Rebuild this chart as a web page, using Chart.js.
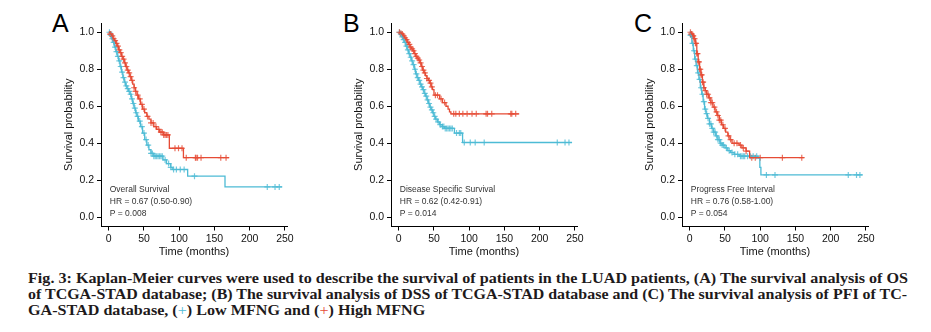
<!DOCTYPE html>
<html>
<head>
<meta charset="utf-8">
<script src="https://cdn.jsdelivr.net/npm/chart.js@4.4.1/dist/chart.umd.min.js"></script>
<style>
  body { margin: 0; background: #fff; width: 931px; height: 332px; overflow: hidden; position: relative; }
  canvas { position: absolute; top: 0; }
  .tag { position: absolute; top: 9px; font: 25px "Liberation Sans", Arial, sans-serif; color: #000; }
  .cap { position: absolute; left: 28px; white-space: nowrap; font: bold 15.5px "Liberation Serif", "Times New Roman", serif;
         line-height: 16px; color: #1e1a1b; transform-origin: 0 0; }
</style>
</head>
<body>
<div class="tag" style="left:52px">A</div>
<div class="tag" style="left:343px">B</div>
<div class="tag" style="left:634px">C</div>
<canvas id="chartA" width="256" height="260" style="left:41px"></canvas>
<canvas id="chartB" width="256" height="260" style="left:331px"></canvas>
<canvas id="chartC" width="256" height="260" style="left:622px"></canvas>
<div class="cap" id="cap1" style="top:270px">Fig. 3: Kaplan-Meier curves were used to describe the survival of patients in the LUAD patients, (A) The survival analysis of OS</div>
<div class="cap" id="cap2" style="top:286px">of TCGA-STAD database; (B) The survival analysis of DSS of TCGA-STAD database and (C) The survival analysis of PFI of TC-</div>
<div class="cap" id="cap3" style="top:302px">GA-STAD database, (<span style="color:#4DBBD5;font-weight:normal">+</span>) Low MFNG and (<span style="color:#E64B35;font-weight:normal">+</span>) High MFNG</div>
<script>
// tick values shared by the three panels
const xTicks = [0, 50, 100, 150, 200, 250];
const yTicks = [0, 0.2, 0.4, 0.6, 0.8, 1.0];

// A - overall survival
const osHighTime = [0, 2, 4, 6, 8, 10, 12, 14, 16, 18, 20, 22, 24, 26, 28, 30, 32, 34, 36, 38, 40, 42, 45, 48, 51, 54, 57, 60, 64, 68, 72, 78, 86, 106, 171];
const osHighSurv = [1.0, 0.99, 0.98, 0.965, 0.955, 0.94, 0.925, 0.905, 0.89, 0.87, 0.855, 0.835, 0.815, 0.795, 0.78, 0.76, 0.74, 0.72, 0.70, 0.68, 0.66, 0.64, 0.61, 0.585, 0.565, 0.545, 0.53, 0.51, 0.49, 0.475, 0.46, 0.445, 0.373, 0.322, 0.322];
const osHighCensor = [2, 3, 5, 7, 9, 11, 13, 15, 17, 19, 21, 23, 25, 27, 29, 31, 33, 36, 38, 41, 44, 47, 50, 55, 60, 63, 67, 71, 74, 76, 78, 80, 82, 84, 94, 99, 104, 110, 123, 124, 126, 131, 159, 166.5];
const osLowTime = [0, 2, 4, 6, 8, 10, 12, 14, 16, 18, 20, 22, 24, 26, 28, 30, 32, 34, 36, 38, 40, 42, 45, 48, 51, 54, 57, 60, 64, 77, 82, 88, 90, 112, 165, 246];
const osLowSurv = [1.0, 0.985, 0.965, 0.945, 0.92, 0.895, 0.87, 0.845, 0.815, 0.785, 0.755, 0.73, 0.71, 0.695, 0.68, 0.665, 0.64, 0.615, 0.59, 0.565, 0.545, 0.52, 0.49, 0.455, 0.42, 0.39, 0.365, 0.345, 0.33, 0.31, 0.29, 0.27, 0.258, 0.222, 0.164, 0.164];
const osLowCensor = [1, 3, 5, 7, 9, 11, 13, 15, 17, 19, 21, 23, 25, 27, 29, 31, 33, 35, 37, 39, 41, 44, 47, 50, 53, 56, 60, 62, 64, 66, 68, 70, 72, 74, 76, 80, 85, 88, 92, 96, 101.5, 107, 121.7, 225, 236, 242];

// B - disease specific survival
const dssHighTime = [0, 2, 4, 6, 8, 10, 12, 14, 16, 18, 20, 22, 24, 26, 28, 30, 32, 34, 36, 38, 40, 42, 44, 46, 48, 50, 58, 62, 67, 70, 72, 74, 171];
const dssHighSurv = [1.0, 0.995, 0.99, 0.98, 0.97, 0.96, 0.945, 0.935, 0.92, 0.91, 0.90, 0.885, 0.87, 0.86, 0.85, 0.835, 0.815, 0.795, 0.78, 0.765, 0.75, 0.74, 0.725, 0.705, 0.69, 0.66, 0.64, 0.62, 0.60, 0.585, 0.57, 0.559, 0.559];
const dssHighCensor = [1, 3, 5, 7, 9, 11, 13, 15, 17, 19, 21, 23, 25, 27, 29, 31, 33, 35, 37, 40, 43, 45, 47, 52, 55, 60, 65, 78, 81, 86, 91, 97, 104, 110, 124, 126, 132, 159, 160.5, 166];
const dssLowTime = [0, 2, 4, 6, 8, 10, 12, 14, 16, 18, 20, 22, 24, 26, 28, 30, 32, 34, 36, 38, 40, 42, 44, 46, 48, 50, 52, 55, 58, 62, 65, 79, 90.6, 246];
const dssLowSurv = [1.0, 0.99, 0.975, 0.96, 0.945, 0.925, 0.905, 0.885, 0.865, 0.845, 0.825, 0.80, 0.775, 0.755, 0.74, 0.72, 0.705, 0.69, 0.67, 0.655, 0.635, 0.615, 0.595, 0.58, 0.565, 0.545, 0.53, 0.515, 0.50, 0.49, 0.48, 0.455, 0.404, 0.404];
const dssLowCensor = [1, 3, 5, 7, 9, 11, 13, 15, 17, 19, 21, 23, 25, 27, 29, 31, 33, 35, 37, 39, 41, 43, 45, 47, 49, 51, 53, 56, 59, 62, 64, 66, 68, 70, 72, 74, 76, 82, 86, 88, 93, 101.5, 108.5, 121.3, 225, 236, 241.6];

// C - progress free interval
const pfiHighTime = [0, 2, 4, 6, 8, 10, 12, 14, 16, 18, 20, 22, 24, 27, 30, 33, 36, 39, 42, 45, 48, 51, 54, 57, 60, 70, 74, 80, 85, 162];
const pfiHighSurv = [1.0, 0.99, 0.98, 0.965, 0.94, 0.885, 0.84, 0.80, 0.77, 0.73, 0.70, 0.685, 0.665, 0.645, 0.62, 0.595, 0.57, 0.55, 0.525, 0.50, 0.48, 0.46, 0.44, 0.42, 0.40, 0.39, 0.375, 0.357, 0.322, 0.322];
const pfiHighCensor = [1, 2, 3, 4, 5, 6, 7, 8, 9, 10, 11, 12, 13, 14, 15, 16, 17, 18, 19, 20, 22, 24, 26, 28, 30, 32, 35, 38, 40, 42, 44, 47, 50, 55, 58, 63, 67, 72, 76, 80, 88, 93, 100, 131.5, 159];
const pfiLowTime = [0, 1, 3, 5, 7, 9, 11, 13, 15, 17, 19, 21, 23, 25, 28, 31, 34, 37, 40, 43, 46, 50, 54, 58, 63, 70, 97, 99.5, 101, 245];
const pfiLowSurv = [1.0, 0.985, 0.94, 0.90, 0.855, 0.82, 0.78, 0.745, 0.70, 0.665, 0.625, 0.585, 0.56, 0.535, 0.505, 0.48, 0.46, 0.44, 0.42, 0.40, 0.39, 0.375, 0.36, 0.35, 0.34, 0.33, 0.32, 0.27, 0.229, 0.229];
const pfiLowCensor = [1, 2, 4, 6, 8, 10, 12, 14, 16, 18, 20, 22, 24, 26, 28, 30, 32, 34, 36, 38, 40, 42, 44, 46, 48, 52, 56, 60, 64, 68, 72, 74, 76, 78, 82, 86, 90, 95, 108.8, 121, 225, 236.7, 241.5];

const RED = '#E64B35';
const BLUE = '#4DBBD5';
const FONT = '"Liberation Sans", Arial, sans-serif';

// survival value of the step curve at time t (where a censor mark sits)
function survAt(times, surv, t) {
    let s = surv[0];
    for (let i = 0; i < times.length; i++) {
        if (times[i] <= t) s = surv[i];
    }
    return s;
}

function curve(times, surv, color) {
    return {
        data: times.map((t, i) => ({ x: t, y: surv[i] })),
        borderColor: color,
        borderWidth: 1.3,
        stepped: 'before',
        pointRadius: 0,
        fill: false
    };
}

function censors(marks, times, surv, color) {
    return {
        data: marks.map(t => ({ x: t, y: survAt(times, surv, t) })),
        showLine: false,
        pointStyle: 'cross',
        pointRadius: 3,
        pointBorderWidth: 1.2,
        borderColor: color + 'cc',
        backgroundColor: color
    };
}

const notePlugin = {
    id: 'note',
    afterDraw(chart) {
        const lines = chart.options.plugins.note.lines;
        const { ctx, chartArea } = chart;
        const x0 = chart.scales.x.getPixelForValue(0);
        ctx.save();
        ctx.font = '8.5px ' + FONT;
        ctx.fillStyle = '#333';
        ctx.textBaseline = 'middle';
        lines.forEach((txt, i) => {
            ctx.fillText(txt, x0 + 1, chartArea.bottom - 36.5 + i * 11.7);
        });
        ctx.restore();
    }
};

function makeChart(id, datasets, lines) {
    const ctx = document.getElementById(id).getContext('2d');
    new Chart(ctx, {
        type: 'line',
        data: { datasets: datasets },
        plugins: [notePlugin],
        options: {
            responsive: false,
            animation: false,
            layout: { padding: { left: 0, right: 10, top: 23, bottom: 0 } },
            plugins: {
                legend: { display: false },
                tooltip: { enabled: false },
                note: { lines: lines }
            },
            scales: {
                x: {
                    type: 'linear',
                    min: -11,
                    max: 253,
                    afterBuildTicks: axis => { axis.ticks = xTicks.map(v => ({ value: v })); },
                    afterFit: axis => { axis.height = 33.5; },
                    grid: { drawOnChartArea: false, drawTicks: true, tickLength: 4, tickColor: '#000' },
                    border: { display: true, color: '#000', width: 1 },
                    ticks: { color: '#111', font: { family: FONT, size: 10.5 }, padding: 2, maxRotation: 0, autoSkip: false },
                    title: { display: true, text: 'Time (months)', color: '#111', font: { family: FONT, size: 11 }, padding: { top: 0, bottom: 1 } }
                },
                y: {
                    type: 'linear',
                    min: -0.05,
                    max: 1.05,
                    afterBuildTicks: axis => { axis.ticks = yTicks.map(v => ({ value: v })); },
                    afterFit: axis => { axis.width = 60; },
                    grid: { drawOnChartArea: false, drawTicks: true, tickLength: 4, tickColor: '#000' },
                    border: { display: true, color: '#000', width: 1 },
                    ticks: { color: '#111', font: { family: FONT, size: 10.5 }, padding: 3, callback: v => v.toFixed(1) },
                    title: { display: true, text: 'Survival probability', color: '#111', font: { family: FONT, size: 11 }, padding: { top: 21, bottom: 0 } }
                }
            }
        }
    });
}

makeChart('chartA', [
    curve(osHighTime, osHighSurv, RED),
    curve(osLowTime, osLowSurv, BLUE),
    censors(osHighCensor, osHighTime, osHighSurv, RED),
    censors(osLowCensor, osLowTime, osLowSurv, BLUE)
], ['Overall Survival', 'HR = 0.67 (0.50-0.90)', 'P = 0.008']);

makeChart('chartB', [
    curve(dssHighTime, dssHighSurv, RED),
    curve(dssLowTime, dssLowSurv, BLUE),
    censors(dssHighCensor, dssHighTime, dssHighSurv, RED),
    censors(dssLowCensor, dssLowTime, dssLowSurv, BLUE)
], ['Disease Specific Survival', 'HR = 0.62 (0.42-0.91)', 'P = 0.014']);

makeChart('chartC', [
    curve(pfiHighTime, pfiHighSurv, RED),
    curve(pfiLowTime, pfiLowSurv, BLUE),
    censors(pfiHighCensor, pfiHighTime, pfiHighSurv, RED),
    censors(pfiLowCensor, pfiLowTime, pfiLowSurv, BLUE)
], ['Progress Free Interval', 'HR = 0.76 (0.58-1.00)', 'P = 0.054']);

// squeeze the caption lines to the printed width
const cap1 = document.getElementById('cap1');
const k = 880 / cap1.offsetWidth;
cap1.style.transform = 'scaleX(' + k + ')';
const cap2 = document.getElementById('cap2');
cap2.style.transform = 'scaleX(' + (879 / cap2.offsetWidth) + ')';
document.getElementById('cap3').style.transform = 'scaleX(' + k + ')';
</script>
</body>
</html>
